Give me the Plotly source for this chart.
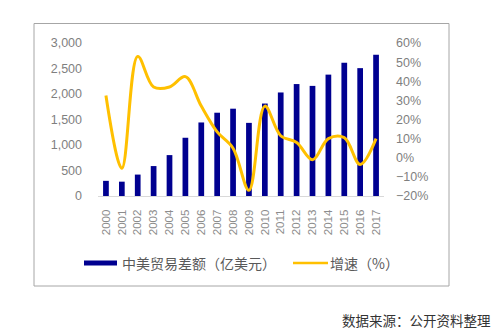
import plotly.graph_objects as go

years = [str(y) for y in range(2000, 2018)]
surplus = [297, 281, 420, 587, 802, 1142, 1442, 1633, 1712, 1434, 1813, 2030, 2195, 2159, 2380, 2614, 2507, 2770]
growth = [32.5, -5.5, 53, 37, 37, 42.4, 27, 13.5, 5, -17, 27, 11.5, 8, -1, 10, 10.5, -3.5, 10]

W, H = 500, 332
x0, x1 = 98, 384
y0, y1 = 43, 196

fig = go.Figure()
fig.add_trace(go.Bar(x=years, y=surplus, name="中美贸易差额（亿美元）",
                     marker=dict(color="#000090", line=dict(width=0)), width=0.36))
fig.add_trace(go.Scatter(x=years, y=growth, name="增速（%）", yaxis="y2", mode="lines",
                         line=dict(color="#FFC000", width=3, shape="spline", smoothing=1.0)))

tickfont = dict(family="Liberation Sans, Arial, sans-serif", size=12.5, color="#7F7F7F")
fig.update_layout(
    width=W, height=H,
    margin=dict(l=x0, r=W - x1, t=y0, b=H - y1),
    paper_bgcolor="white", plot_bgcolor="white",
    showlegend=False,
    bargap=0.6,
    xaxis=dict(type="category", range=[-0.5, 17.5], tickangle=-90, showgrid=False,
               showline=True, linecolor="#D9D9D9", linewidth=1, ticks="", ticklabelstandoff=8,
               tickfont=dict(family="Liberation Sans, Arial, sans-serif", size=11.5, color="#8C8C8C")),
    yaxis=dict(range=[0, 3000], dtick=500, tickformat=",", showgrid=False, zeroline=False,
               showline=False, ticks="", tickfont=tickfont, ticklabelstandoff=15),
    yaxis2=dict(range=[-20, 60], dtick=10, ticksuffix="%", overlaying="y", side="right",
                showgrid=False, zeroline=False, showline=False, ticks="", tickfont=tickfont,
                ticklabelstandoff=11),
)


def fx(x):
    return (x - x0) / (x1 - x0)


def fy(y):
    return (y1 - y) / (y1 - y0)


# border box
fig.add_shape(type="rect", xref="paper", yref="paper",
              x0=fx(34), x1=fx(449), y0=fy(286), y1=fy(23.5),
              line=dict(color="#A6A6A6", width=1), fillcolor="rgba(0,0,0,0)", layer="below")

# custom legend
fig.add_shape(type="rect", xref="paper", yref="paper", x0=fx(84), x1=fx(117), y0=fy(265.5), y1=fy(260.5),
              fillcolor="#000090", line=dict(width=0))
fig.add_shape(type="line", xref="paper", yref="paper", x0=fx(293), x1=fx(328), y0=fy(263), y1=fy(263),
              line=dict(color="#FFC000", width=2.5))
legfont = dict(family="Noto Sans CJK SC, sans-serif", size=14, color="#595959")
fig.add_annotation(xref="paper", yref="paper", x=fx(120), y=fy(263), text="中美贸易差额（亿美元）",
                   showarrow=False, xanchor="left", yanchor="middle", font=legfont)
fig.add_annotation(xref="paper", yref="paper", x=fx(328), y=fy(263), text="增速（%）",
                   showarrow=False, xanchor="left", yanchor="middle", font=legfont)
fig.add_annotation(xref="paper", yref="paper", x=fx(493), y=fy(320), text="数据来源：公开资料整理",
                   showarrow=False, xanchor="right", yanchor="middle",
                   font=dict(family="Noto Sans CJK SC, sans-serif", size=13.5, color="#333333"))

fig.write_html("out.html")
